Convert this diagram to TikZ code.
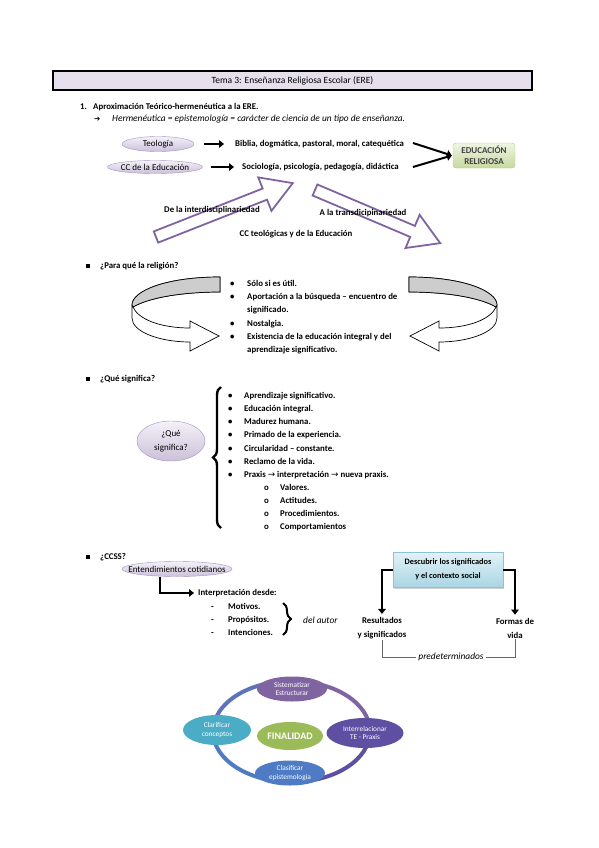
\documentclass[tikz,border=0pt]{standalone}
\usepackage{fontspec}
\setmainfont{Carlito}
\newfontfamily\symfont{DejaVu Sans}
\usetikzlibrary{shapes.geometric,arrows.meta,decorations.pathreplacing,shadows,positioning}

\definecolor{headfill}{HTML}{E5E0EC}
\definecolor{lavtop}{HTML}{F4F1F8}
\definecolor{lavbot}{HTML}{CCC0DA}
\definecolor{lavline}{HTML}{A392C2}
\definecolor{arrpurple}{HTML}{8064A2}
\definecolor{ribgray}{HTML}{CDCDCD}
\definecolor{edutop}{HTML}{EEF4E2}
\definecolor{edubot}{HTML}{C7DA9F}
\definecolor{eduline}{HTML}{B5CB8A}
\definecolor{desctop}{HTML}{E3F2F7}
\definecolor{descbot}{HTML}{A9D6E3}
\definecolor{descline}{HTML}{8CC3D3}
\definecolor{satpurple}{HTML}{8064A2}
\definecolor{satindigo}{HTML}{5E4FA2}
\definecolor{satblue}{HTML}{4F7BC4}
\definecolor{satteal}{HTML}{4BACC6}
\definecolor{satgreen}{HTML}{9BBB59}

\tikzset{
  txt/.style={anchor=west,inner sep=0pt,text height=6.5pt,text depth=2pt,
    font=\fontsize{8.8}{10.5}\selectfont\bfseries},
  itxt/.style={anchor=west,inner sep=0pt,font=\fontsize{9.4}{11}\selectfont\itshape},
  ctxt/.style={inner sep=0pt,align=center,font=\fontsize{8.8}{14}\selectfont\bfseries},
  sqbul/.style={fill=black,minimum size=4.5pt,inner sep=0pt},
  lavell/.style={ellipse,draw=lavline,top color=lavtop,bottom color=lavbot,inner xsep=-30pt,
    inner ysep=-10pt,font=\fontsize{9}{10}\selectfont},
  blk/.style={line width=2pt,-{Triangle[length=5pt,width=7.5pt]}},
  blockarr/.style={draw=arrpurple,line width=1.8pt,fill=white,line join=miter},
  sat/.style={ellipse,inner sep=0pt,text=white,align=center,font=\fontsize{7.3}{8.8}\selectfont},
  ringseg/.style={line width=4pt,x radius=78.5,y radius=50.5}
}

\begin{document}
\begin{tikzpicture}[x=1pt,y=-1pt]
\useasboundingbox[fill=white] (0,0) rectangle (599,848);

% title bar
\node[draw,line width=1.6pt,fill=headfill,minimum width=479pt,minimum height=19pt,inner sep=0pt,
  font=\fontsize{9.5}{11}\selectfont] (title) at (292.5,80.5) {Tema 3: Enseñanza Religiosa Escolar (ERE)};

% 1.
\node[txt] (n1) at (80,107) {1.};
\node[txt] (aprox) at (93,107) {Aproximación Teórico-hermenéutica a la ERE.};
\node[anchor=west,inner sep=0pt,font=\symfont\fontsize{7.5}{8}\selectfont] (harrow) at (94,119) {➔};
\node[itxt] (herm) at (112,119) {Hermenéutica = epistemología = carácter de ciencia de un tipo de enseñanza.};

\node[lavell,minimum width=72pt,minimum height=15pt] (teo) at (158,144) {Teología};
\node[lavell,minimum width=95pt,minimum height=13pt] (cce) at (155,167) {CC de la Educación};
\node[txt] (bib) at (235,144) {Biblia, dogmática, pastoral, moral, catequética};
\node[txt] (soc) at (242,167) {Sociología, psicología, pedagogía, didáctica};
\draw[blk,shorten <=10pt,shorten >=11pt] (teo.east) -- (bib.west);
\draw[blk,shorten <=8pt,shorten >=8pt] (cce.east) -- (soc.west);

\node[draw=eduline,top color=edutop,bottom color=edubot,rounded corners=3pt,minimum width=62pt,
  minimum height=25pt,inner sep=0pt,align=center,text=black!75,
  font=\fontsize{9}{10.5}\selectfont\bfseries] (edu) at (484,155.5) {EDUCACIÓN\\RELIGIOSA};
\coordinate (c1) at (413,143);
\coordinate (c2) at (413,167);
\draw[blk] (c1) -- ([xshift=-1pt]edu.west);
\draw[blk] (c2) -- ([xshift=-1pt]edu.west);

% big arrows
\begin{scope}[shift={(156,237)},rotate=21.5]
\draw[blockarr] (0,-6) -- (117,-6) -- (117,-18) -- (147,0) -- (117,18) -- (117,6) -- (0,6) -- cycle;
\end{scope}
\begin{scope}[shift={(315,190)},rotate=-23]
\draw[blockarr] (0,-6) -- (106,-6) -- (106,-18) -- (136,0) -- (106,18) -- (106,6) -- (0,6) -- cycle;
\end{scope}
\node[ctxt] (inter) at (212,210) {De la interdisciplinariedad};
\node[ctxt] (trans) at (363,213) {A la transdicipinariedad};
\node[ctxt] (cct) at (296,234) {CC teológicas y de la Educación};

% para que
\node[sqbul] (sq2) at (88,266) {};
\node[txt] (para) at (100,266) {¿Para qué la religión?};
\foreach \s/\dx in {1/0,-1/629}{
\begin{scope}[xshift=\dx pt,xscale=\s]
\draw[fill=white,line width=0.7pt] (220,277) .. controls (166,277) and (132,291) .. (132,305) -- (132,318)
  .. controls (132,332) and (160,342) .. (190,342) -- (190,351) -- (219,336) -- (190,321) -- (190,328)
  .. controls (160,328) and (138,319) .. (133,307) .. controls (150,297) and (185,292) .. (220,292) -- cycle;
\draw[fill=ribgray,line width=0.7pt] (220,277) .. controls (166,277) and (132,291) .. (132,305) -- (133,307)
  .. controls (150,297) and (185,292) .. (220,292) -- cycle;
\end{scope}
}
\node[txt] (pb1) at (230,284) {•};
\node[txt] (pi1) at (247,284) {Sólo si es útil.};
\node[txt] (pb2) at (230,297) {•};
\node[txt] (pi2) at (247,297) {Aportación a la búsqueda – encuentro de};
\node[txt] (pi2b) at (247,310) {significado.};
\node[txt] (pb3) at (230,324) {•};
\node[txt] (pi3) at (247,324) {Nostalgia.};
\node[txt] (pb4) at (230,337) {•};
\node[txt] (pi4) at (247,337) {Existencia de la educación integral y del};
\node[txt] (pi4b) at (247,350) {aprendizaje significativo.};

% que significa
\node[sqbul] (sq3) at (88,379) {};
\node[txt] (qhead) at (100,379) {¿Qué significa?};
\node[lavell,minimum width=68pt,minimum height=40pt,align=center,font=\fontsize{9}{14}\selectfont] (que) at (171,441) {¿Qué\\significa?};
\draw[line width=2.4pt,decorate,decoration={brace,amplitude=8pt}] (221,528) -- (221,387);
\node[txt] (qb1) at (228,396) {•};
\node[txt] (qi1) at (244,396) {Aprendizaje significativo.};
\node[txt] (qb2) at (228,409) {•};
\node[txt] (qi2) at (244,409) {Educación integral.};
\node[txt] (qb3) at (228,422) {•};
\node[txt] (qi3) at (244,422) {Madurez humana.};
\node[txt] (qb4) at (228,435) {•};
\node[txt] (qi4) at (244,435) {Primado de la experiencia.};
\node[txt] (qb5) at (228,449) {•};
\node[txt] (qi5) at (244,449) {Circularidad – constante.};
\node[txt] (qb6) at (228,462) {•};
\node[txt] (qi6) at (244,462) {Reclamo de la vida.};
\node[txt] (qb7) at (228,475) {•};
\node[txt] (qi7) at (244,475) {Praxis {\symfont\mdseries →} interpretación {\symfont\mdseries →} nueva praxis.};
\node[txt] (qo1) at (264,488) {o};
\node[txt] (qs1) at (280,488) {Valores.};
\node[txt] (qo2) at (264,501) {o};
\node[txt] (qs2) at (280,501) {Actitudes.};
\node[txt] (qo3) at (264,514) {o};
\node[txt] (qs3) at (280,514) {Procedimientos.};
\node[txt] (qo4) at (264,527) {o};
\node[txt] (qs4) at (280,527) {Comportamientos};

% ccss
\node[sqbul] (sq4) at (88,557) {};
\node[txt] (ccss) at (100,557) {¿CCSS?};
\node[lavell,minimum width=110pt,minimum height=15pt] (ent) at (177,569) {Entendimientos cotidianos};
\node[txt] (interp) at (198,593) {Interpretación desde:};
\draw[blk,shorten >=4pt] ([xshift=-17pt]ent.south) |- (interp.west);
\node[txt] (d1) at (211,607) {-};
\node[txt] (m1) at (228,607) {Motivos.};
\node[txt] (d2) at (211,620) {-};
\node[txt] (m2) at (228,620) {Propósitos.};
\node[txt] (d3) at (211,633) {-};
\node[txt] (m3) at (228,633) {Intenciones.};
\draw[line width=2pt,decorate,decoration={brace,amplitude=8pt}] (283,603) -- (283,635);
\node[itxt] (autor) at (303,620) {del autor};

\node[draw=descline,top color=desctop,bottom color=descbot,minimum width=110pt,minimum height=35pt,
  inner sep=0pt,align=center,drop shadow={opacity=0.35,shadow xshift=1pt,shadow yshift=-1.5pt},
  font=\fontsize{8.3}{14}\selectfont\bfseries] (desc) at (448,569.5) {Descubrir los significados\\y el contexto social};
\node[ctxt] (res) at (382,628) {Resultados\\y significados};
\node[ctxt] (form) at (515,628) {Formas de\\vida};
\draw[blk,shorten >=3pt] (desc.west) -| (res.north);
\draw[blk,shorten >=3pt] (desc.east) -| (form.north);
\node[inner sep=2pt,font=\fontsize{9.4}{11}\selectfont\itshape] (pred) at (451,657) {predeterminados};
\draw[black!60,line width=0.6pt] ([yshift=-1pt]res.south) |- (pred.west);
\draw[black!60,line width=0.6pt] (pred.east) -| ([yshift=-1pt]form.south);

% cycle
\coordinate (ring) at (291.5,731.5);
\draw[ringseg,color=satblue!70!satpurple] ([xshift=-78.5pt]ring) arc[start angle=180,end angle=270];
\draw[ringseg,color=satpurple] ([yshift=50.5pt]ring) arc[start angle=270,end angle=360];
\draw[ringseg,color=satindigo] ([xshift=78.5pt]ring) arc[start angle=0,end angle=90];
\draw[ringseg,color=satblue] ([yshift=-50.5pt]ring) arc[start angle=90,end angle=180];
\node[sat,fill=satpurple,minimum width=70pt,minimum height=25pt] (sis) at (292,689) {Sistematizar\\Estructurar};
\node[sat,fill=satindigo,minimum width=77pt,minimum height=30pt] (irel) at (365,733) {Interrelacionar\\TE - Praxis};
\node[sat,fill=satblue,minimum width=70pt,minimum height=25pt] (clas) at (290,773) {Clasificar\\epistemología};
\node[sat,fill=satteal,minimum width=68pt,minimum height=30pt] (clar) at (217,730) {Clarificar\\conceptos};
\node[sat,fill=satgreen,minimum width=66pt,minimum height=28pt,font=\fontsize{10}{11}\selectfont\bfseries] (fin) at (290,736) {FINALIDAD};
\end{tikzpicture}
\end{document}
